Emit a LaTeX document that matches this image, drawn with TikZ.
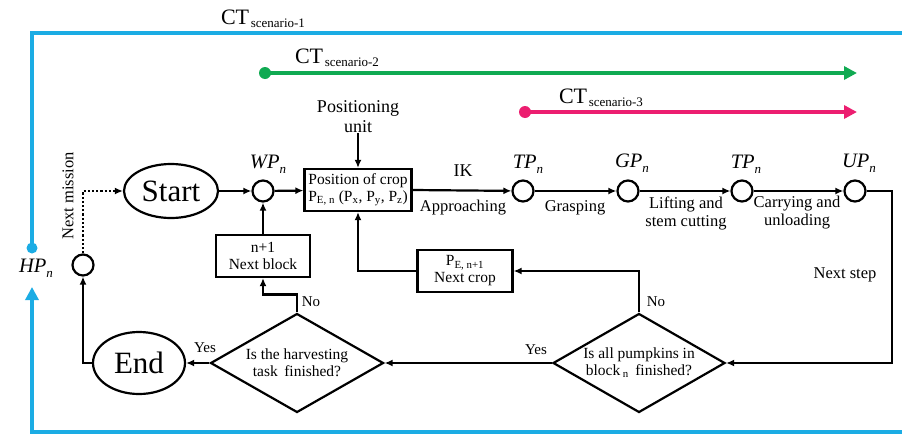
\documentclass[tikz,border=0pt]{standalone}
\usepackage{fontspec}
\setmainfont{Liberation Serif}
\usetikzlibrary{arrows.meta,shapes.geometric,calc}
\definecolor{ctblue}{RGB}{27,172,228}
\definecolor{ctgreen}{RGB}{16,170,82}
\definecolor{ctpink}{RGB}{236,30,112}
\tikzset{
    block/.style = {draw, rectangle, line width=2.2pt, inner sep=0pt,
        font=\fontsize{15.5}{17}\selectfont, align=center},
    way/.style = {draw, circle, line width=2.2pt, minimum size=21pt, inner sep=0pt},
    term/.style = {draw, ellipse, line width=2.2pt, inner sep=0pt,
        font=\fontsize{31}{32}\selectfont},
    decision/.style = {draw, diamond, line width=2.2pt, inner sep=0pt, aspect=1.75,
        font=\fontsize{15.5}{17}\selectfont, align=center},
    arrow/.style = {draw, line width=2.2pt, -{Latex[length=8pt,width=7pt]}},
    lbl/.style = {font=\fontsize{16.5}{18}\selectfont, align=center, inner sep=0pt},
    wplbl/.style = {font=\fontsize{20.5}{21}\selectfont, inner sep=0pt},
    ctline/.style = {line width=3.8pt, -{Triangle[length=13pt,width=13pt]}}
}
\newcommand{\ctname}[1]{{\fontsize{22}{23}\selectfont CT}\,{\fontsize{13}{14}\selectfont\raisebox{-0.45ex}{scenario-#1}}}
\newcommand{\wpname}[1]{\textit{#1}\raisebox{-0.5ex}{\fontsize{13}{14}\selectfont\textit{n}}}

\begin{document}
\begin{tikzpicture}[x=1pt,y=-1pt]
    \useasboundingbox (0,0) rectangle (902,434);
    % cycle time lines
    \coordinate (hp) at (32,248);
    \draw[ctblue, line width=3.8pt] (902,33) -- (32,33) -- (hp);
    \fill[ctblue] (hp) circle (5.5);
    \draw[ctblue, ctline] (902,432) -- (32,432) -- (32,287);
    \node[wplbl] (hplbl) at (36,268) {\wpname{HP}};
    \node[inner sep=0pt] (ct1) at (263,19) {\ctname{1}};
    \coordinate (g0) at (265,73);
    \coordinate (g1) at (857,73);
    \draw[ctgreen, ctline] (g0) -- (g1);
    \fill[ctgreen] (g0) circle (6);
    \node[inner sep=0pt] (ct2) at (337,58) {\ctname{2}};
    \coordinate (m0) at (525,112);
    \coordinate (m1) at (857,112);
    \draw[ctpink, ctline] (m0) -- (m1);
    \fill[ctpink] (m0) circle (6);
    \node[inner sep=0pt] (ct3) at (601,98) {\ctname{3}};

    % main flow
    \node[term, minimum width=94pt, minimum height=54pt] (start) at (171,191) {Start};
    \node[way] (wp) at (263,191) {};
    \node[wplbl] at (268,164) {\wpname{WP}};
    \node[block, minimum width=107pt, minimum height=42pt] (pos) at (358,190)
        {Position of crop\\P\textsubscript{E, n} (P\textsubscript{x}, P\textsubscript{y}, P\textsubscript{z})};
    \node[lbl, font=\fontsize{18}{20}\selectfont] (unit) at (358,117) {Positioning\\unit};
    \node[way] (tp1) at (523,191) {};
    \node[wplbl] at (528,164) {\wpname{TP}};
    \node[way] (gp) at (628,191) {};
    \node[wplbl] at (632,163) {\wpname{GP}};
    \node[way] (tp2) at (742,191) {};
    \node[wplbl] at (746,164) {\wpname{TP}};
    \node[way] (up) at (855,191) {};
    \node[wplbl] at (859,163) {\wpname{UP}};

    \node[block, minimum width=94pt, minimum height=42pt] (nb) at (263,256) {n+1\\Next block};
    \node[block, minimum width=95pt, minimum height=42pt] (pe) at (465,271)
        {P\textsubscript{E, n+1}\\Next crop};
    \node[way] (nm) at (83,265) {};
    \node[term, minimum width=92pt, minimum height=62pt] (end) at (139,363) {End};
    \node[decision, minimum width=173pt, minimum height=99pt] (d1) at (297,363)
        {Is the harvesting\\task\, finished?};
    \node[decision, minimum width=172pt, minimum height=99pt] (d2) at (639,363)
        {Is all pumpkins in\\block\,\textsubscript{n}\, finished?};

    % connectors
    \draw[arrow] (unit) -- (pos.north);
    \draw[arrow] (start) -- (wp);
    \draw[arrow] (wp) -- (pos);
    \draw[arrow] (pos.east) -- (tp1);
    \draw[arrow] (tp1) -- (gp);
    \draw[arrow] (gp) -- (tp2);
    \draw[arrow] (tp2) -- (up);
    \draw[arrow] (up.east) -- ++(25,0) |- (d2.east);
    \draw[arrow] (d2.north) |- (pe.east);
    \draw[arrow] (pe.west) -| (pos.south);
    \draw[arrow] (d2.west) -- (d1.east);
    \draw[arrow] (d1.west) -- (end.east);
    \draw[arrow] (d1.north) -- ++(0,-18) -| (nb.south);
    \draw[arrow] (nb.north) -- (wp.south);
    \draw[arrow] (end.west) -| (nm.south);
    \draw[arrow, dotted] (nm.north) |- (start.west);

    % labels
    \node[lbl, font=\fontsize{18}{20}\selectfont] at (463,171) {IK};
    \node[lbl] at (463,208) {Approaching};
    \node[lbl] at (575,208) {Grasping};
    \node[lbl] at (686,213) {Lifting and\\stem cutting};
    \node[lbl] at (797,213) {Carrying and\\unloading};
    \node[lbl] at (845,275) {Next step};
    \node[lbl, font=\fontsize{15}{16}\selectfont] at (205,348) {Yes};
    \node[lbl, font=\fontsize{15}{16}\selectfont] at (311,302) {No};
    \node[lbl, font=\fontsize{15}{16}\selectfont] at (536,350) {Yes};
    \node[lbl, font=\fontsize{15}{16}\selectfont] at (656,302) {No};
    \node[lbl, rotate=90] at (68,196) {Next mission};
\end{tikzpicture}
\end{document}
